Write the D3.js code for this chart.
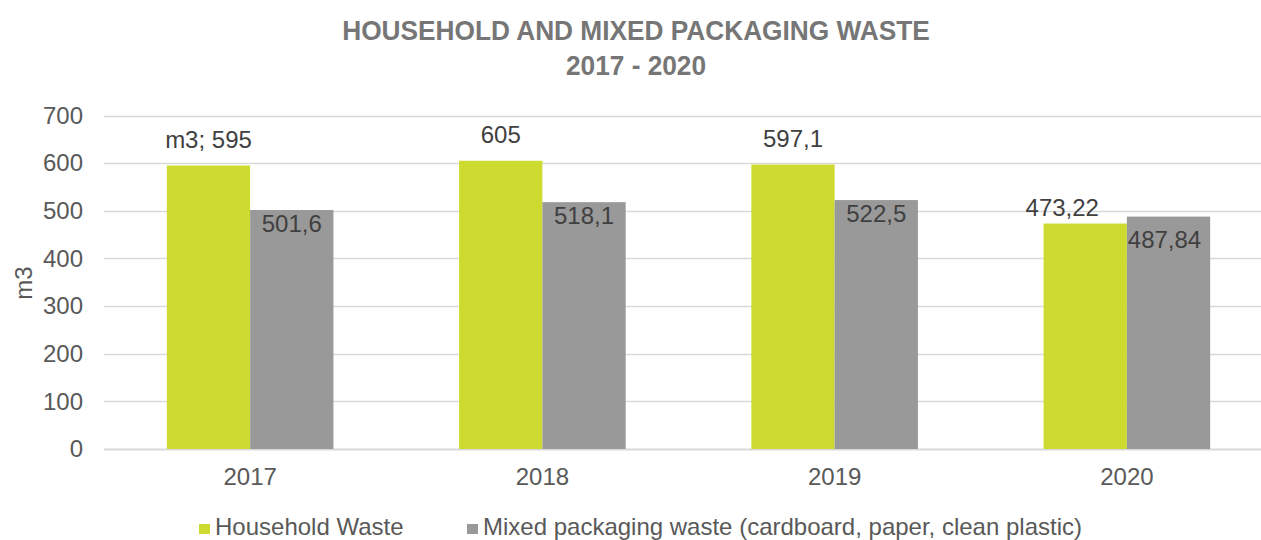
<!DOCTYPE html>
<html>
<head>
<meta charset="utf-8">
<script src="https://cdn.jsdelivr.net/npm/d3@7"></script>
<style>
  html, body { margin: 0; padding: 0; background: #fff; }
  svg { display: block; font-family: "Liberation Sans", Arial, sans-serif; }
</style>
</head>
<body>
<svg id="chart" width="1261" height="540"></svg>
<script>
// Chart data
const years = ["2017", "2018", "2019", "2020"];
const householdWaste = [595, 605, 597.1, 473.22];
const mixedPackaging = [501.6, 518.1, 522.5, 487.84];
const seriesNames = ["Household Waste", "Mixed packaging waste (cardboard, paper, clean plastic)"];
const yTicks = [0, 100, 200, 300, 400, 500, 600, 700];
const titleLines = ["HOUSEHOLD AND MIXED PACKAGING WASTE", "2017 - 2020"];
const yAxisTitle = "m3";

const colors = ["#cddb30", "#999999"];
const textColor = "#595959";
const gridColor = "#d9d9d9";
const fontSize = "24px";

const svg = d3.select("#chart");
const W = 1261;
const plotLeft = 104, plotRight = 1273;

const x0 = d3.scaleBand()
  .domain(years)
  .range([plotLeft, plotRight])
  .paddingInner(0.43)
  .paddingOuter(0.215);

const x1 = d3.scaleBand()
  .domain([0, 1])
  .range([0, x0.bandwidth()]);

const y = d3.scaleLinear()
  .domain([0, 700])
  .range([449, 115.5]);

// Title (slightly condensed bold)
svg.append("g")
  .attr("transform", "translate(636,0) scale(0.938,1)")
  .selectAll("text")
  .data(titleLines)
  .join("text")
  .attr("x", 0)
  .attr("y", (d, i) => 40 + i * 35)
  .attr("text-anchor", "middle")
  .attr("fill", "#767676")
  .style("font-weight", "bold")
  .style("font-size", "28px")
  .text(d => d);

// Gridlines
svg.append("g").selectAll("line")
  .data(yTicks)
  .join("line")
  .attr("x1", plotLeft)
  .attr("x2", W)
  .attr("y1", d => Math.round(y(d)) + 0.5)
  .attr("y2", d => Math.round(y(d)) + 0.5)
  .attr("stroke", gridColor)
  .attr("stroke-width", d => d === 0 ? 2 : 1.6);

// Y axis labels
const yAxis = d3.axisLeft(y).tickValues(yTicks).tickSize(0).tickPadding(0).tickFormat(d3.format("d"));
const yAxisG = svg.append("g")
  .attr("transform", "translate(83,0)")
  .call(yAxis);
yAxisG.select(".domain").remove();
yAxisG.selectAll("text")
  .attr("fill", textColor)
  .style("font-size", fontSize)
  .style("font-family", "'Liberation Sans', Arial, sans-serif");

// Y axis title
svg.append("text")
  .attr("transform", "translate(32,283) rotate(-90)")
  .attr("text-anchor", "middle")
  .attr("fill", textColor)
  .style("font-size", fontSize)
  .text(yAxisTitle);

// X axis labels
const xAxis = d3.axisBottom(x0).tickSize(0).tickPadding(0);
const xAxisG = svg.append("g")
  .attr("transform", "translate(0,468)")
  .call(xAxis);
xAxisG.select(".domain").remove();
xAxisG.selectAll("text")
  .attr("fill", textColor)
  .attr("dy", "0.72em")
  .style("font-size", fontSize)
  .style("font-family", "'Liberation Sans', Arial, sans-serif");

// Bars
const rows = years.map((yr, i) => ({ year: yr, values: [householdWaste[i], mixedPackaging[i]] }));

const groups = svg.append("g").selectAll("g")
  .data(rows)
  .join("g")
  .attr("transform", d => `translate(${x0(d.year)},0)`);

groups.selectAll("rect")
  .data(d => d.values.map((v, s) => ({ v, s })))
  .join("rect")
  .attr("x", d => x1(d.s))
  .attr("width", x1.bandwidth())
  .attr("y", d => y(d.v))
  .attr("height", d => y(0) - y(d.v))
  .attr("fill", d => colors[d.s]);

// Data labels: household above the bar, packaging inside the bar top
const fmt = v => String(v).replace(".", ",");
const labelNudge = { "2020": [[-23, 10], [-4, 9]] };

groups.selectAll("text.lbl")
  .data(d => d.values.map((v, s) => ({ v, s, year: d.year })))
  .join("text")
  .attr("class", "lbl")
  .attr("text-anchor", "middle")
  .attr("x", d => x1(d.s) + x1.bandwidth() / 2 + (labelNudge[d.year] ? labelNudge[d.year][d.s][0] : 0))
  .attr("y", d => (d.s === 0 ? y(d.v) - 18 : y(d.v) + 22) + (labelNudge[d.year] ? labelNudge[d.year][d.s][1] : 0))
  .attr("fill", "#404040")
  .style("font-size", fontSize)
  .text(d => (d.s === 0 && d.year === years[0] ? yAxisTitle + "; " : "") + fmt(d.v));

// Legend
const legendItems = [
  { name: seriesNames[0], color: colors[0], x: 199 },
  { name: seriesNames[1], color: colors[1], x: 467 }
];
const li = svg.append("g").selectAll("g")
  .data(legendItems)
  .join("g")
  .attr("transform", d => `translate(${d.x},0)`);
li.append("rect")
  .attr("x", 0).attr("y", 524)
  .attr("width", 11).attr("height", 10)
  .attr("fill", d => d.color);
li.append("text")
  .attr("x", 16).attr("y", 535)
  .attr("fill", textColor)
  .style("font-size", fontSize)
  .text(d => d.name);
</script>
</body>
</html>
